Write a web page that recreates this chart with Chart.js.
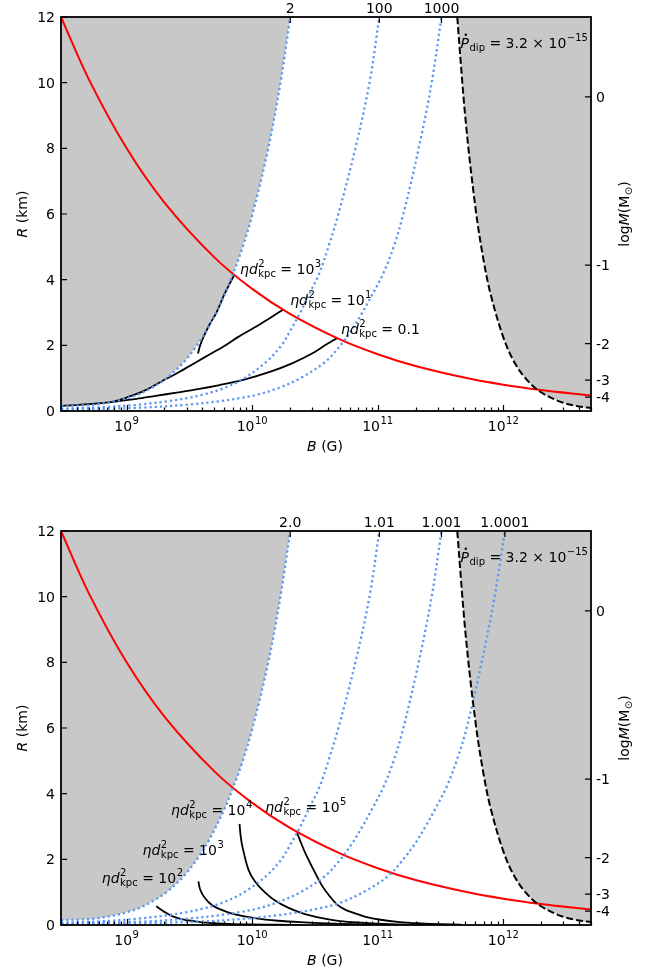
<!DOCTYPE html>
<html>
<head>
<meta charset="utf-8">
<script src="https://cdn.jsdelivr.net/npm/chart.js@4.4.1/dist/chart.umd.min.js"></script>
<style>
  html, body { margin: 0; padding: 0; background: #fff; width: 664px; height: 972px; overflow: hidden; }
  canvas { position: absolute; left: 0; }
  #upper { top: 0; }
  #lower { top: 514px; }
</style>
</head>
<body>
<canvas id="upper" width="664" height="486"></canvas>
<canvas id="lower" width="664" height="458"></canvas>
<script>
// ---- axis ranges and ticks ----
const B_MIN = 3e8, B_MAX = 5e12;      // magnetic field (G)
const R_MIN = 0, R_MAX = 12;          // radius (km)
const rTicks = [0, 2, 4, 6, 8, 10, 12];
const bDecades = [1e9, 1e10, 1e11, 1e12];
const bDecadeExp = ['9', '10', '11', '12'];

// mass scale on the right: radius at which log M (Msun) takes each value
const logMTickR = [9.57, 4.44, 2.05, 0.94, 0.42];
const logMLabels = ['0', '-1', '-2', '-3', '-4'];

// labels of the contours where they leave the top of the frame
const upperTopLabels = ['2', '100', '1000'];
const lowerTopLabels = ['2.0', '1.01', '1.001', '1.0001'];

// ---- red curve ----
const redB = [3e8, 5e8, 1e9, 2e9, 5e9, 1e10, 2e10, 5e10, 1e11, 2e11, 5e11, 1e12, 2e12, 5e12];
const redR = [12.0, 10.1, 8.0, 6.35, 4.68, 3.72, 2.96, 2.18, 1.73, 1.37, 1.01, 0.80, 0.64, 0.47];

// ---- dipole spin-down limit (dashed) ----
const dipB = [4.3e11, 5e11, 6e11, 7e11, 8e11, 1e12, 1.2e12, 1.5e12, 2e12, 3e12, 4e12, 5e12];
const dipR = [12.0, 8.9, 6.2, 4.55, 3.5, 2.25, 1.55, 1.0, 0.57, 0.25, 0.14, 0.09];

// ---- blue dotted contours ----
const contour1B = [2.01e10, 1.68e10, 1.343e10, 1.007e10, 8.41e9, 7.08e9, 5.96e9, 5.16e9, 4.40e9, 3.63e9, 2.87e9, 2.08e9, 1.57e9, 1.23e9, 1.02e9, 8.13e8, 5.75e8, 4.37e8, 3.0e8];
const contour1R = [12, 10, 8, 6, 5, 4.2, 3.5, 3, 2.5, 2, 1.5, 1.0, 0.7, 0.5, 0.4, 0.3, 0.2, 0.17, 0.15];
const contour2B = [1.03e11, 8.6e10, 6.64e10, 4.86e10, 4.05e10, 3.43e10, 2.80e10, 2.42e10, 2.05e10, 1.71e10, 1.30e10, 8.65e9, 5.99e9, 4.07e9, 3.09e9, 2.14e9, 1.28e9, 6.14e8, 3.0e8];
const contour2R = [12, 10, 8, 6, 5, 4.2, 3.5, 3, 2.5, 2, 1.5, 1.0, 0.7, 0.5, 0.4, 0.3, 0.2, 0.11, 0.07];
const contour3B = [3.22e11, 2.69e11, 2.12e11, 1.60e11, 1.34e11, 1.11e11, 8.92e10, 7.55e10, 6.29e10, 5.05e10, 3.83e10, 2.42e10, 1.62e10, 1.10e10, 8.19e9, 5.56e9, 3.21e9, 1.28e9, 3.0e8];
const contour3R = [12, 10, 8, 6, 5, 4.2, 3.5, 3, 2.5, 2, 1.5, 1.0, 0.7, 0.5, 0.4, 0.3, 0.2, 0.1, 0.04];
const contour4B = [1.03e12, 8.53e11, 6.73e11, 5.11e11, 4.25e11, 3.53e11, 2.84e11, 2.40e11, 2.00e11, 1.60e11, 1.22e11, 7.69e10, 5.05e10, 3.37e10, 2.42e10, 1.62e10, 9.31e9, 3.72e9, 8.87e8, 3.0e8];
const contour4R = [12, 10, 8, 6, 5, 4.2, 3.5, 3, 2.5, 2, 1.5, 1.0, 0.68, 0.5, 0.4, 0.3, 0.2, 0.1, 0.04, 0.022];

// ---- black tracks, upper panel ----
const trackU01B = [3e8, 5e8, 7.8e8, 1.2e9, 1.7e9, 2.5e9, 3.5e9, 5.5e9, 8.5e9, 1.4e10, 2.1e10, 3.0e10, 3.8e10, 4.75e10];
const trackU01R = [0.15, 0.21, 0.28, 0.37, 0.46, 0.56, 0.65, 0.79, 0.95, 1.2, 1.46, 1.75, 2.0, 2.22];
const trackU10B = [7.8e8, 1.0e9, 1.4e9, 2.0e9, 2.6e9, 3.2e9, 4.2e9, 6.0e9, 7.7e9, 1.05e10, 1.35e10, 1.78e10];
const trackU10R = [0.28, 0.41, 0.63, 0.95, 1.18, 1.38, 1.64, 1.98, 2.25, 2.55, 2.8, 3.1];
const trackU1e3B = [3.7e9, 3.85e9, 4.15e9, 4.6e9, 5.2e9, 6.0e9, 7.2e9];
const trackU1e3R = [1.75, 2.0, 2.3, 2.65, 3.0, 3.55, 4.15];

// ---- black tracks, lower panel ----
const trackL1e2B = [1.72e9, 2.0e9, 2.3e9, 2.8e9, 3.5e9, 4.5e9, 6.5e9, 1.0e10, 1.6e10, 2.5e10];
const trackL1e2R = [0.57, 0.40, 0.27, 0.17, 0.11, 0.065, 0.035, 0.018, 0.008, 0.004];
const trackL1e3B = [3.73e9, 3.85e9, 4.2e9, 4.8e9, 5.7e9, 7.0e9, 1.05e10, 1.6e10, 2.6e10, 4.5e10, 7.3e10, 1.2e11];
const trackL1e3R = [1.33, 1.08, 0.82, 0.6, 0.46, 0.34, 0.21, 0.13, 0.08, 0.04, 0.02, 0.008];
const trackL1e4B = [7.93e9, 8.1e9, 8.4e9, 9.35e9, 1.05e10, 1.2e10, 1.5e10, 1.95e10, 2.6e10, 3.6e10, 5.0e10, 7.3e10, 1.1e11, 1.8e11, 3e11];
const trackL1e4R = [3.08, 2.7, 2.35, 1.68, 1.33, 1.08, 0.76, 0.52, 0.34, 0.21, 0.12, 0.07, 0.035, 0.012, 0.005];
const trackL1e5B = [2.28e10, 2.45e10, 2.65e10, 3.18e10, 3.6e10, 4.1e10, 4.75e10, 5.5e10, 6.45e10, 8e10, 1.05e11, 1.5e11, 2.2e11, 3.2e11, 4.6e11];
const trackL1e5R = [2.8, 2.5, 2.19, 1.58, 1.2, 0.9, 0.62, 0.47, 0.37, 0.25, 0.16, 0.09, 0.05, 0.025, 0.01];

// ---- styling ----
const FONT = '"DejaVu Sans", "Liberation Sans", sans-serif';
const GRAY = '#c8c8c8';
const BLUE = '#5b96f2';
const RED = '#ff0000';
const DOTS = [2.2, 3.0];
const DASHES = [7, 3];

function pts(xs, ys) {
  const out = [];
  for (let i = 0; i < xs.length && i < ys.length; i++) out.push({ x: xs[i], y: ys[i] });
  return out.sort((a, b) => a.x - b.x);
}

function line(data, color, width, dash) {
  return {
    data, borderColor: color, borderWidth: width, borderDash: dash || [],
    borderCapStyle: 'butt', pointRadius: 0, fill: false, tension: 0.35, clip: 0
  };
}
function area(data) {
  return {
    data, borderColor: 'rgba(0,0,0,0)', borderWidth: 1, backgroundColor: GRAY,
    pointRadius: 0, fill: 'end', tension: 0.35, clip: 0
  };
}

// ---- mixed-size text runs (base text with optional super/subscripts) ----
function fontOf(size, italic) { return (italic ? 'italic ' : '') + size + 'px ' + FONT; }
function partWidth(ctx, p) {
  ctx.font = fontOf(p.size || 14, p.i);
  let w = ctx.measureText(p.t).width;
  let s = 0;
  if (p.sup) { ctx.font = fontOf(10, false); s = Math.max(s, ctx.measureText(p.sup).width); }
  if (p.sub) { ctx.font = fontOf(10, false); s = Math.max(s, ctx.measureText(p.sub).width); }
  return w + s + (p.sup || p.sub ? 0.5 : 0);
}
function drawRun(ctx, parts, x, y, align) {
  let w = 0;
  for (const p of parts) w += partWidth(ctx, p);
  let cx = align === 'center' ? x - w / 2 : (align === 'right' ? x - w : x);
  ctx.textAlign = 'left';
  ctx.textBaseline = 'alphabetic';
  ctx.fillStyle = '#000';
  for (const p of parts) {
    ctx.font = fontOf(p.size || 14, p.i);
    const bw = ctx.measureText(p.t).width;
    ctx.fillText(p.t, cx, y);
    if (p.dot) {
      ctx.beginPath();
      ctx.arc(cx + bw * 0.62, y - 12.8, 1.2, 0, Math.PI * 2);
      ctx.fill();
    }
    let sw = 0;
    ctx.font = fontOf(10, false);
    if (p.sup) { ctx.fillText(p.sup, cx + bw + 0.5, y - 7); sw = Math.max(sw, ctx.measureText(p.sup).width); }
    if (p.sub) { ctx.fillText(p.sub, cx + bw + 0.5, y + 3); sw = Math.max(sw, ctx.measureText(p.sub).width); }
    cx += bw + sw + (p.sup || p.sub ? 0.5 : 0);
  }
}
function etaParts(rhs) {
  return [{ t: 'η', i: true }, { t: 'd', i: true, sup: '2', sub: 'kpc' }, { t: ' = ' }, rhs];
}
const pdotParts = [{ t: 'P', i: true, dot: true, sub: 'dip' }, { t: ' = 3.2 × 10', sup: '−15' }];

// ---- frame, ticks, labels and annotations ----
const decor = {
  id: 'decor',
  afterDraw(chart, args, opts) {
    const ctx = chart.ctx, a = chart.chartArea;
    const xs = chart.scales.x, ys = chart.scales.y;
    ctx.save();
    ctx.strokeStyle = '#000';
    ctx.lineWidth = 1.2;
    ctx.beginPath();
    // bottom: major + minor ticks, pointing inward
    for (let e = 8; e <= 12; e++) {
      for (let m = 1; m <= 9; m++) {
        const v = m * Math.pow(10, e);
        if (v < B_MIN || v > B_MAX) continue;
        const px = Math.round(xs.getPixelForValue(v)) + 0.5;
        const len = m === 1 ? 6 : 3.5;
        ctx.moveTo(px, a.bottom); ctx.lineTo(px, a.bottom - len);
      }
    }
    // left ticks
    for (const r of rTicks) {
      const py = ys.getPixelForValue(r);
      ctx.moveTo(a.left, py); ctx.lineTo(a.left + 6, py);
    }
    // top ticks at the contour ends
    for (const t of opts.topTicks) {
      const px = xs.getPixelForValue(t.b);
      ctx.moveTo(px, a.top); ctx.lineTo(px, a.top + 6);
    }
    // right ticks (mass scale)
    for (const r of logMTickR) {
      const py = ys.getPixelForValue(r);
      ctx.moveTo(a.right, py); ctx.lineTo(a.right - 6, py);
    }
    ctx.stroke();

    // frame
    ctx.lineWidth = 1.8;
    ctx.strokeRect(a.left, a.top, a.right - a.left, a.bottom - a.top);

    // tick labels
    ctx.fillStyle = '#000';
    ctx.font = fontOf(14, false);
    ctx.textAlign = 'right';
    ctx.textBaseline = 'alphabetic';
    for (const r of rTicks) ctx.fillText(String(r), a.left - 6, ys.getPixelForValue(r) + 5);
    ctx.textAlign = 'left';
    logMTickR.forEach((r, i) => ctx.fillText(logMLabels[i], a.right + 5, ys.getPixelForValue(r) + 5));
    bDecades.forEach((v, i) => drawRun(ctx, [{ t: '10', sup: bDecadeExp[i] }], xs.getPixelForValue(v), a.bottom + 20, 'center'));
    for (const t of opts.topTicks) drawRun(ctx, [{ t: t.label }], xs.getPixelForValue(t.b), a.top - 4, 'center');

    // axis titles
    drawRun(ctx, [{ t: 'B', i: true }, { t: ' (G)' }], (a.left + a.right) / 2 - 1, a.bottom + 40, 'center');
    ctx.save();
    ctx.translate(27, (a.top + a.bottom) / 2);
    ctx.rotate(-Math.PI / 2);
    drawRun(ctx, [{ t: 'R', i: true }, { t: ' (km)' }], 0, 0, 'center');
    ctx.restore();
    ctx.save();
    ctx.translate(629, (a.top + a.bottom) / 2);
    ctx.rotate(-Math.PI / 2);
    drawRun(ctx, [{ t: 'log' }, { t: 'M', i: true }, { t: '(M', sub: '⊙' }, { t: ')' }], 0, 0, 'center');
    ctx.restore();

    // annotations anchored in data coordinates
    for (const n of opts.notes) {
      drawRun(ctx, n.parts, xs.getPixelForValue(n.b), ys.getPixelForValue(n.r), 'left');
    }
    ctx.restore();
  }
};

function makeChart(id, datasets, topTicks, notes, bottomPad) {
  return new Chart(document.getElementById(id), {
    type: 'line',
    data: { datasets },
    options: {
      responsive: false,
      devicePixelRatio: 1,
      animation: false,
      events: [],
      layout: { padding: { left: 61, right: 73, top: 17, bottom: bottomPad } },
      scales: {
        x: { type: 'logarithmic', min: B_MIN, max: B_MAX, display: false },
        y: { type: 'linear', min: R_MIN, max: R_MAX, display: false }
      },
      plugins: {
        legend: { display: false },
        tooltip: { enabled: false },
        decor: { topTicks, notes }
      }
    },
    plugins: [decor]
  });
}

// upper panel
makeChart('upper', [
  line(pts(dipB, dipR), '#000', 2, DASHES),
  line(pts(contour1B, contour1R), BLUE, 2.3, DOTS),
  line(pts(contour2B, contour2R), BLUE, 2.3, DOTS),
  line(pts(contour3B, contour3R), BLUE, 2.3, DOTS),
  line(pts(redB, redR), RED, 2),
  line(pts(trackU01B, trackU01R), '#000', 1.8),
  line(pts(trackU10B, trackU10R), '#000', 1.8),
  line(pts(trackU1e3B, trackU1e3R), '#000', 1.8),
  area(pts(contour1B, contour1R)),
  area(pts(dipB, dipR))
], [
  { b: contour1B[0], label: upperTopLabels[0] },
  { b: contour2B[0], label: upperTopLabels[1] },
  { b: contour3B[0], label: upperTopLabels[2] }
], [
  { b: 8.0e9, r: 4.18, parts: etaParts({ t: '10', sup: '3' }) },
  { b: 2.01e10, r: 3.24, parts: etaParts({ t: '10', sup: '1' }) },
  { b: 5.1e10, r: 2.35, parts: etaParts({ t: '0.1' }) },
  { b: 4.57e11, r: 11.07, parts: pdotParts }
], 75);

// lower panel
makeChart('lower', [
  line(pts(dipB, dipR), '#000', 2, DASHES),
  line(pts(contour1B, contour1R), BLUE, 2.3, DOTS),
  line(pts(contour2B, contour2R), BLUE, 2.3, DOTS),
  line(pts(contour3B, contour3R), BLUE, 2.3, DOTS),
  line(pts(contour4B, contour4R), BLUE, 2.3, DOTS),
  line(pts(redB, redR), RED, 2),
  line(pts(trackL1e2B, trackL1e2R), '#000', 1.8),
  line(pts(trackL1e3B, trackL1e3R), '#000', 1.8),
  line(pts(trackL1e4B, trackL1e4R), '#000', 1.8),
  line(pts(trackL1e5B, trackL1e5R), '#000', 1.8),
  area(pts(contour1B, contour1R)),
  area(pts(dipB, dipR))
], [
  { b: contour1B[0], label: lowerTopLabels[0] },
  { b: contour2B[0], label: lowerTopLabels[1] },
  { b: contour3B[0], label: lowerTopLabels[2] },
  { b: contour4B[0], label: lowerTopLabels[3] }
], [
  { b: 6.34e8, r: 1.29, parts: etaParts({ t: '10', sup: '2' }) },
  { b: 1.34e9, r: 2.14, parts: etaParts({ t: '10', sup: '3' }) },
  { b: 2.26e9, r: 3.36, parts: etaParts({ t: '10', sup: '4' }) },
  { b: 1.27e10, r: 3.45, parts: etaParts({ t: '10', sup: '5' }) },
  { b: 4.57e11, r: 11.07, parts: pdotParts }
], 47);
</script>
</body>
</html>
